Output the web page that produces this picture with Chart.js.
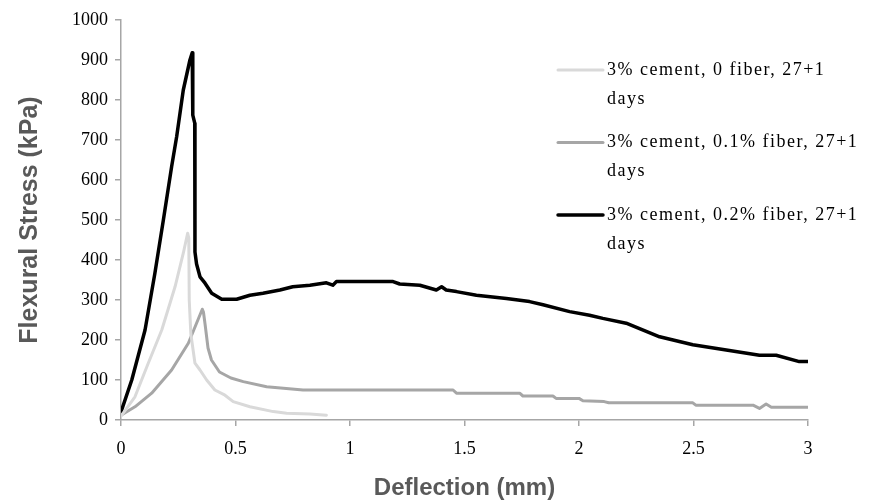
<!DOCTYPE html>
<html>
<head>
<meta charset="utf-8">
<script src="https://cdn.jsdelivr.net/npm/chart.js@4.4.1/dist/chart.umd.min.js"></script>
<style>
  html, body { margin: 0; padding: 0; background: #fff; }
  #wrap { width: 869px; height: 503px; }
</style>
</head>
<body>
<div id="wrap"><canvas id="chartFlexion" width="869" height="503"></canvas></div>
<script>
// series labels
const seriesLabels = [
    '3% cement, 0 fiber, 27+1 days',
    '3% cement, 0.1% fiber, 27+1 days',
    '3% cement, 0.2% fiber, 27+1 days'
];

// 3% cement, 0 fiber
const fiber0X = [0, 0.061, 0.119, 0.178, 0.236, 0.272, 0.291, 0.296, 0.298, 0.305, 0.323, 0.345, 0.374, 0.41, 0.454, 0.49, 0.563, 0.665, 0.723, 0.825, 0.897];
const fiber0Y = [10, 58, 142, 225, 333, 417, 467, 455, 300, 215, 142, 125, 100, 75, 62, 46, 33, 21, 17, 15, 12];

// 3% cement, 0.1% fiber
const fiber01X = [0, 0.061, 0.134, 0.221, 0.294, 0.355, 0.36, 0.367, 0.38, 0.395, 0.43, 0.48, 0.534, 0.636, 0.795, 1.45, 1.465, 1.741, 1.755, 1.886, 1.9, 2.0, 2.017, 2.11, 2.13, 2.497, 2.51, 2.76, 2.788, 2.817, 2.84, 3.0];
const fiber01Y = [12, 33, 67, 125, 192, 277, 270, 240, 180, 150, 120, 105, 96, 83, 75, 75, 67, 67, 60, 60, 54, 54, 48, 46, 43, 43, 37, 37, 29, 40, 32, 32];

// 3% cement, 0.2% fiber
const fiber02X = [0, 0.047, 0.105, 0.148, 0.185, 0.221, 0.243, 0.272, 0.301, 0.311, 0.313, 0.314, 0.322, 0.323, 0.33, 0.345, 0.367, 0.396, 0.44, 0.505, 0.563, 0.62, 0.694, 0.75, 0.825, 0.897, 0.925, 0.941, 1.188, 1.217, 1.305, 1.377, 1.4, 1.42, 1.465, 1.552, 1.683, 1.784, 1.843, 1.959, 2.046, 2.104, 2.206, 2.352, 2.497, 2.643, 2.788, 2.861, 2.962, 3.0];
const fiber02Y = [20, 100, 225, 367, 500, 633, 708, 825, 900, 918, 905, 762, 742, 420, 390, 358, 342, 317, 302, 302, 312, 317, 325, 333, 337, 343, 337, 346, 346, 340, 337, 325, 333, 325, 321, 312, 304, 296, 288, 271, 262, 254, 242, 208, 188, 175, 162, 162, 146, 146];

// axis
const xTicks = { min: 0, max: 3, step: 0.5 };
const yTicks = { min: 0, max: 1000, step: 100 };

const toPoints = (xs, ys) => xs.map((x, i) => ({ x: x, y: ys[i] }));

const axisGrey = '#a6a6a6';
const tickFont = { family: '"Liberation Serif", "Times New Roman", serif', size: 18 };

// legend drawn at the upper right, over the plot, with wrapped text
const sideLegend = {
    id: 'sideLegend',
    afterDraw(chart) {
        const ctx = chart.ctx;
        ctx.save();
        ctx.font = '18px "Liberation Serif", "Times New Roman", serif';
        ctx.letterSpacing = '1.5px';
        ctx.textBaseline = 'middle';
        ctx.fillStyle = '#000';
        chart.data.datasets.forEach((ds, i) => {
            const y = 70 + i * 72.5;
            ctx.strokeStyle = ds.borderColor;
            ctx.lineWidth = ds.borderWidth;
            ctx.lineCap = 'round';
            ctx.beginPath();
            ctx.moveTo(558, y);
            ctx.lineTo(603, y);
            ctx.stroke();
            // simple word wrap
            const words = ds.label.split(' ');
            const lines = [];
            let cur = '';
            words.forEach(w => {
                const test = cur ? cur + ' ' + w : w;
                if (ctx.measureText(test).width > 262 && cur) {
                    lines.push(cur);
                    cur = w;
                } else {
                    cur = test;
                }
            });
            lines.push(cur);
            lines.forEach((t, k) => ctx.fillText(t, 607, y + k * 29));
        });
        ctx.restore();
    }
};

const ctx = document.getElementById('chartFlexion').getContext('2d');
new Chart(ctx, {
    type: 'scatter',
    data: {
        datasets: [
            {
                label: seriesLabels[0],
                data: toPoints(fiber0X, fiber0Y),
                borderColor: '#d9d9d9',
                borderWidth: 3,
                showLine: true,
                pointRadius: 0,
                tension: 0
            },
            {
                label: seriesLabels[1],
                data: toPoints(fiber01X, fiber01Y),
                borderColor: '#a6a6a6',
                borderWidth: 3,
                showLine: true,
                pointRadius: 0,
                tension: 0
            },
            {
                label: seriesLabels[2],
                data: toPoints(fiber02X, fiber02Y),
                borderColor: '#000000',
                borderWidth: 3.5,
                showLine: true,
                pointRadius: 0,
                tension: 0
            }
        ]
    },
    options: {
        responsive: false,
        animation: false,
        layout: { padding: { top: 20, right: 61, left: 0, bottom: 0 } },
        elements: { line: { borderJoinStyle: 'round', borderCapStyle: 'round' } },
        plugins: {
            legend: { display: false },
            tooltip: { enabled: false }
        },
        scales: {
            x: {
                type: 'linear',
                min: xTicks.min,
                max: xTicks.max,
                ticks: { stepSize: xTicks.step, color: '#000', font: tickFont, padding: 12, maxRotation: 0,
                         callback: v => String(v) },
                grid: { display: true, drawOnChartArea: false, drawTicks: true, tickLength: 6, color: axisGrey, lineWidth: 1.5 },
                border: { display: true, color: axisGrey, width: 1.5 },
                title: { display: true, text: 'Deflection (mm)', color: '#595959',
                         font: { family: '"Liberation Sans", Arial, sans-serif', size: 24, weight: 'bold' },
                         padding: { top: 1, bottom: 0 } },
                afterFit(scale) { scale.height = 83; }
            },
            y: {
                type: 'linear',
                min: yTicks.min,
                max: yTicks.max,
                ticks: { stepSize: yTicks.step, color: '#000', font: tickFont, padding: 7,
                         callback: v => String(v) },
                grid: { display: true, drawOnChartArea: false, drawTicks: true, tickLength: 6, color: axisGrey, lineWidth: 1.5 },
                border: { display: true, color: axisGrey, width: 1.5 },
                title: { display: true, text: 'Flexural Stress (kPa)', color: '#595959',
                         font: { family: '"Liberation Sans", Arial, sans-serif', size: 25, weight: 'bold' },
                         padding: { top: 15, bottom: 0 } },
                afterFit(scale) { scale.width = 121; }
            }
        }
    },
    plugins: [sideLegend]
});
</script>
</body>
</html>
